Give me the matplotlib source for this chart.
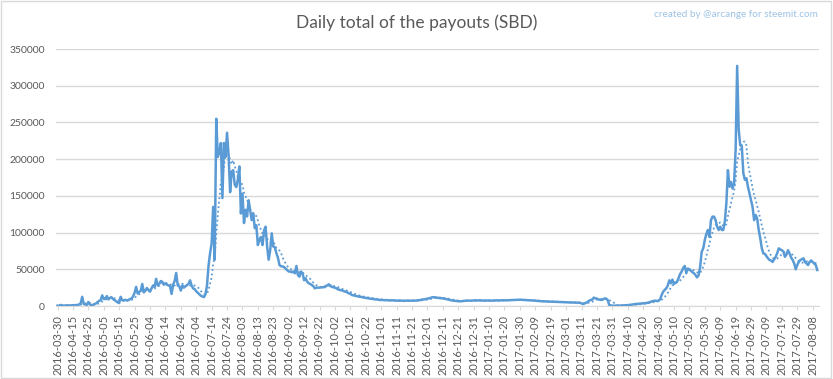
# Libraries
import numpy as np
import pandas as pd
import matplotlib
matplotlib.use('Agg')
import matplotlib.pyplot as plt
from matplotlib.patches import Rectangle

plt.rcParams['font.family'] = ['Lato', 'DejaVu Sans']

# Data (daily payouts, thousands of SBD)
first_day = '2016-03-30'
daily_start = '2016-04-06'
payouts_k = [
    0.5, 0.3, 1.5, 0.8, 0.6, 0.7, 0.8, 0.9, 0.7, 0.8,
    1.0, 1.2, 1.1, 1.5, 2.0, 3.5, 12.5, 3.0, 2.0, 1.5,
    5.5, 2.0, 1.2, 1.5, 2.5, 3.5, 5.5, 7.0, 8.0, 14.5,
    9.5, 10.0, 13.5, 9.0, 11.0, 12.0, 9.5, 8.0, 6.5, 5.0,
    4.0, 12.5, 8.0, 7.5, 8.5, 7.5, 8.0, 9.5, 10.0, 13.0,
    18.0, 26.0, 17.0, 19.0, 21.0, 30.0, 18.5, 21.0, 24.5, 22.0,
    19.5, 24.0, 28.0, 26.0, 37.0, 28.0, 30.0, 34.0, 33.0, 29.0,
    31.0, 29.0, 28.0, 27.5, 16.5, 29.0, 34.0, 45.0, 28.0, 27.0,
    21.0, 28.0, 25.0, 27.0, 28.5, 30.0, 35.0, 28.0, 24.0, 23.0,
    20.0, 18.0, 16.0, 14.0, 13.0, 12.0, 16.0, 28.0, 55.0, 72.0,
    85, 135, 63, 255, 203, 210, 222, 147, 222, 203,
    236, 205, 155, 183, 185, 165, 162, 172, 190, 126,
    153, 113, 131, 122, 144, 130, 117, 126, 106, 110,
    83, 90, 94, 83, 103, 108, 81, 63, 76, 99,
    81, 80, 72, 66, 56, 54, 54, 53, 51, 49,
    47, 47, 46, 47, 44.5, 54.5, 42, 40, 47, 44.5,
    35, 37.7, 33, 31, 30, 28.6, 27, 24, 25, 25,
    25, 25.4, 25.4, 26, 27, 28, 29.5, 28, 26, 25.5,
    25, 24, 22.7, 22, 21.5, 21, 20, 19.5, 18.5, 17.3,
    16.5, 15, 14.5, 14, 13.6, 13, 12.5, 12.5, 11.8, 11.5,
    11, 10.8, 10.4, 10, 9.8, 9.5, 9, 9, 8.6, 8.2,
    8.2, 8.2, 8.0, 7.8, 8.0, 7.6, 7.5, 7.8, 7.6, 7.4,
    7.3, 7.2, 7.5, 7.3, 7.1, 7.0, 7.2, 7.4, 7.3, 7.2,
    7.3, 7.4, 7.3, 7.5, 7.6, 8.0, 8.4, 9.0, 9.0, 9.5,
    10, 10.5, 11, 11.8, 12, 11.8, 11.5, 11, 10.8, 10.5,
    10.4, 10, 9.5, 9, 8.5, 8, 7.5, 7.3, 7, 6.8,
    6.5, 6.4, 6.5, 6.8, 7, 7.3, 7.5, 7.4, 7.2, 7.4,
    7.6, 7.7, 7.5, 7.6, 7.7, 7.5, 7.4, 7.3, 7.4, 7.5,
    7.4, 7.3, 7.3, 7.4, 7.6, 7.7, 7.5, 7.6, 7.7, 7.8,
    7.7, 7.7, 7.8, 7.9, 8.0, 8.2, 8.3, 8.4, 8.5, 8.6,
    8.6, 8.5, 8.3, 8.2, 8.0, 7.9, 7.8, 7.7, 7.7, 7.5,
    7.3, 7.0, 6.8, 6.6, 6.4, 6.3, 6.4, 6.2, 6.0, 6.0,
    6.0, 5.9, 5.8, 5.8, 5.7, 5.6, 5.5, 5.4, 5.2, 5.0,
    5.0, 5.0, 4.9, 4.8, 4.8, 4.7, 4.6, 4.5, 4.5, 4.4,
    3.5, 2.7, 3.5, 4.5, 5.5, 7.3, 8.2, 9.0, 11.4, 10.4,
    10.0, 9.0, 8.5, 8.2, 9.0, 10.4, 10.0, 8.2, 1.4, 0.8,
    0.5, 0.4, 0.5, 0.6, 0.5, 0.6, 0.7, 0.8, 0.9, 1.0,
    1.2, 1.4, 1.8, 2.0, 2.3, 2.7, 2.9, 3.2, 3.4, 3.6,
    3.6, 3.8, 4.0, 4.5, 5.0, 5.9, 6.5, 7.0, 7.3, 6.8,
    7.3, 9.0, 15.0, 19.5, 22.0, 24.0, 28.0, 35.0, 31.0, 36.0,
    30.0, 32.0, 33.0, 38.0, 43.6, 47.0, 52.0, 54.5, 45.0, 51.0,
    50.0, 48.0, 46.0, 44.5, 42.0, 39.0, 42.0, 53.6, 74.0, 78.5,
    90.0, 98.0, 103.5, 94.0, 117.0, 121.7, 121.7, 117.0, 108.0, 103.5,
    108, 103.5, 103.5, 115, 140, 185, 162.5, 169, 160, 167,
    212, 327, 240, 219, 218, 181, 172, 174, 162.5, 153,
    144, 135, 117, 124, 119, 103.5, 92, 78.5, 71.7, 71,
    68, 65, 62.7, 62, 60, 63.6, 67, 72, 78.5, 77,
    76, 74, 67, 70, 76, 71.7, 66, 62.7, 58, 50,
    55.8, 60, 62.7, 63.6, 65, 60, 58, 55.8, 60, 62,
    60, 58, 55.8, 49,
]
ma_period = 7

payouts = pd.Series(payouts_k) * 1000
moving_avg = payouts.rolling(ma_period).mean()
dates = [pd.Timestamp(first_day)] + list(pd.date_range(daily_start, periods=len(payouts) - 1))
labels = [d.strftime('%Y-%m-%d') for d in dates]
x = np.arange(len(payouts))

# Visualization
blue = '#5B9BD5'
grey_text = '#595959'
grid = '#D9D9D9'

fig = plt.figure(figsize=(8.33, 3.79), dpi=100)
ax = fig.add_axes([0.0672, 0.1926, 0.9158, 0.6781])

ax.plot(x, payouts, color=blue, linewidth=1.8, solid_joinstyle='round')
ax.plot(x, moving_avg, color=blue, linewidth=1.3, linestyle=(0, (1, 1.5)))

ax.set_xlim(-1, len(payouts))
ax.set_ylim(0, 350000)
ax.set_yticks(np.arange(0, 350001, 50000))
ax.yaxis.grid(True, color=grid, linewidth=1)
ax.set_axisbelow(True)
ax.set_xticks(x[::10])
ax.set_xticklabels(labels[::10], rotation=90)
ax.tick_params(axis='x', colors=grid, labelcolor=grey_text, labelsize=8, length=3)
ax.tick_params(axis='y', length=0, labelcolor=grey_text, labelsize=7.5, pad=8)
for side in ['top', 'right', 'left']:
    ax.spines[side].set_visible(False)
ax.spines['bottom'].set_color(grid)

fig.text(0.5, 0.94, 'Daily total of the payouts (SBD)', ha='center', va='center',
         fontsize=12.5, color=grey_text)
fig.text(0.982, 0.963, 'created by @arcange for steemit.com', ha='right', va='center',
         fontsize=7.2, color='#9DC3E6')
fig.patches.append(Rectangle((0.001, 0.002), 0.997, 0.995, transform=fig.transFigure,
                             fill=False, edgecolor=grid, linewidth=1))

fig.savefig('out.png', dpi=100)
